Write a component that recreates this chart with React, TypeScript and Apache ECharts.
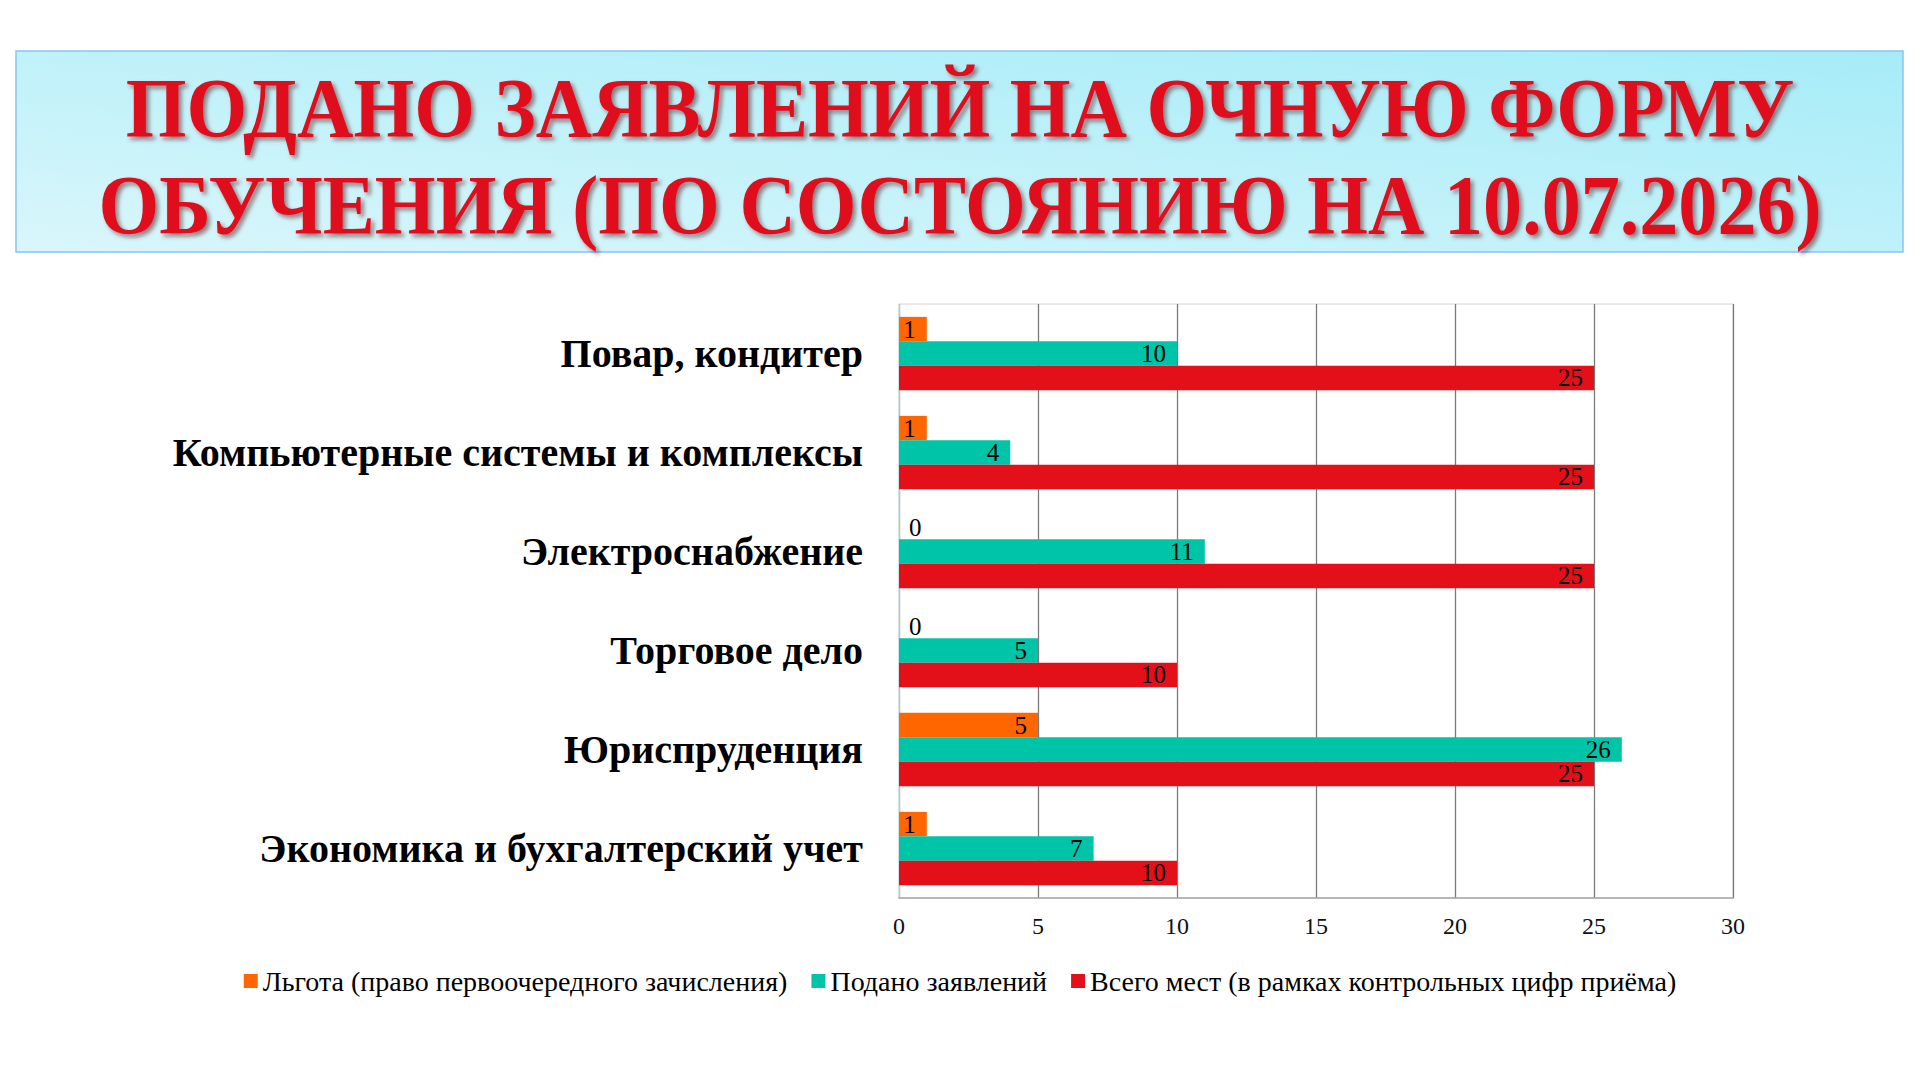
import React, { useEffect, useRef } from "react";
import * as echarts from "echarts";

// Specialities, listed top to bottom
const categories = [
  "Повар, кондитер",
  "Компьютерные системы и комплексы",
  "Электроснабжение",
  "Торговое дело",
  "Юриспруденция",
  "Экономика и бухгалтерский учет",
];

const seriesNames = [
  "Льгота (право первоочередного зачисления)",
  "Подано заявлений",
  "Всего мест (в рамках контрольных цифр приёма)",
];

const privilegeValues = [1, 1, 0, 0, 5, 1];
const submittedValues = [10, 4, 11, 5, 26, 7];
const totalPlacesValues = [25, 25, 25, 10, 25, 10];

const xTicks = [0, 5, 10, 15, 20, 25, 30];

const titleLines = [
  "ПОДАНО ЗАЯВЛЕНИЙ НА ОЧНУЮ ФОРМУ",
  "ОБУЧЕНИЯ (ПО СОСТОЯНИЮ НА 10.07.2026)",
];

const SERIF = "Liberation Serif";
const COLORS = ["#ff6600", "#00c4a7", "#e3101a"];

function makeData(values: number[]) {
  // zero-valued bars get their label outside, to the right of the axis
  return values.map((v) => ({
    value: v,
    label: v === 0 ? { position: "right", distance: 10 } : undefined,
  }));
}

function titleLine(text: string, y: number) {
  return {
    type: "text",
    x: 960,
    y,
    scaleX: 0.93,
    z: 10,
    style: {
      text,
      x: 0,
      y: 0,
      fill: "#e0101c",
      font: `bold 84px ${SERIF}`,
      textAlign: "center",
      textVerticalAlign: "middle",
      textShadowColor: "rgba(90, 10, 10, 0.55)",
      textShadowBlur: 4,
      textShadowOffsetX: 3,
      textShadowOffsetY: 3,
    },
  };
}

export default function App() {
  const ref = useRef<HTMLDivElement>(null);

  useEffect(() => {
    if (!ref.current) return;
    const chart = echarts.init(ref.current, undefined, { renderer: "svg" });

    const barLabel = {
      show: true,
      position: "insideRight",
      distance: 11,
      color: "#000",
      fontFamily: SERIF,
      fontSize: 25,
    };

    chart.setOption({
      animation: false,
      backgroundColor: "#ffffff",
      color: COLORS,
      graphic: [
        {
          type: "rect",
          z: -10,
          shape: { x: 16, y: 51, width: 1887, height: 201 },
          style: {
            fill: new echarts.graphic.LinearGradient(0, 1, 1, 0, [
              { offset: 0, color: "#d9f6fb" },
              { offset: 1, color: "#a6ecf8" },
            ]),
            stroke: "#8cc4ee",
            lineWidth: 1.5,
          },
        },
        titleLine(titleLines[0], 109),
        titleLine(titleLines[1], 206),
      ],
      legend: {
        data: seriesNames,
        left: "center",
        top: 962,
        itemWidth: 14,
        itemHeight: 14,
        itemGap: 24,
        icon: "rect",
        textStyle: { fontFamily: SERIF, fontSize: 28, color: "#000" },
      },
      grid: {
        left: 899,
        right: 187,
        top: 304,
        bottom: 182,
        show: true,
        borderColor: "#d4d4d4",
        borderWidth: 1,
        backgroundColor: "transparent",
      },
      xAxis: {
        type: "value",
        min: xTicks[0],
        max: xTicks[xTicks.length - 1],
        interval: xTicks[1] - xTicks[0],
        axisLine: { show: true, lineStyle: { color: "#a6a6a6", width: 1.5 } },
        axisTick: { show: false },
        axisLabel: {
          fontFamily: SERIF,
          fontSize: 24,
          color: "#111",
          margin: 16,
        },
        splitLine: { show: true, lineStyle: { color: "#7a7a7a", width: 1.3 } },
      },
      yAxis: {
        type: "category",
        inverse: true,
        data: categories,
        axisLine: { show: true, lineStyle: { color: "#cfe3e6", width: 1.5 } },
        axisTick: { show: false },
        axisLabel: {
          fontFamily: SERIF,
          fontWeight: "bold",
          fontSize: 40,
          color: "#000",
          margin: 36,
        },
      },
      series: [
        {
          name: seriesNames[0],
          type: "bar",
          data: makeData(privilegeValues),
          barGap: "0%",
          barCategoryGap: "26%",
          label: barLabel,
        },
        {
          name: seriesNames[1],
          type: "bar",
          data: makeData(submittedValues),
          barGap: "0%",
          barCategoryGap: "26%",
          label: barLabel,
        },
        {
          name: seriesNames[2],
          type: "bar",
          data: makeData(totalPlacesValues),
          barGap: "0%",
          barCategoryGap: "26%",
          label: barLabel,
        },
      ],
    });

    return () => chart.dispose();
  }, []);

  return (
    <div
      ref={ref}
      style={{ position: "fixed", left: 0, top: 0, width: 1920, height: 1080 }}
    />
  );
}
